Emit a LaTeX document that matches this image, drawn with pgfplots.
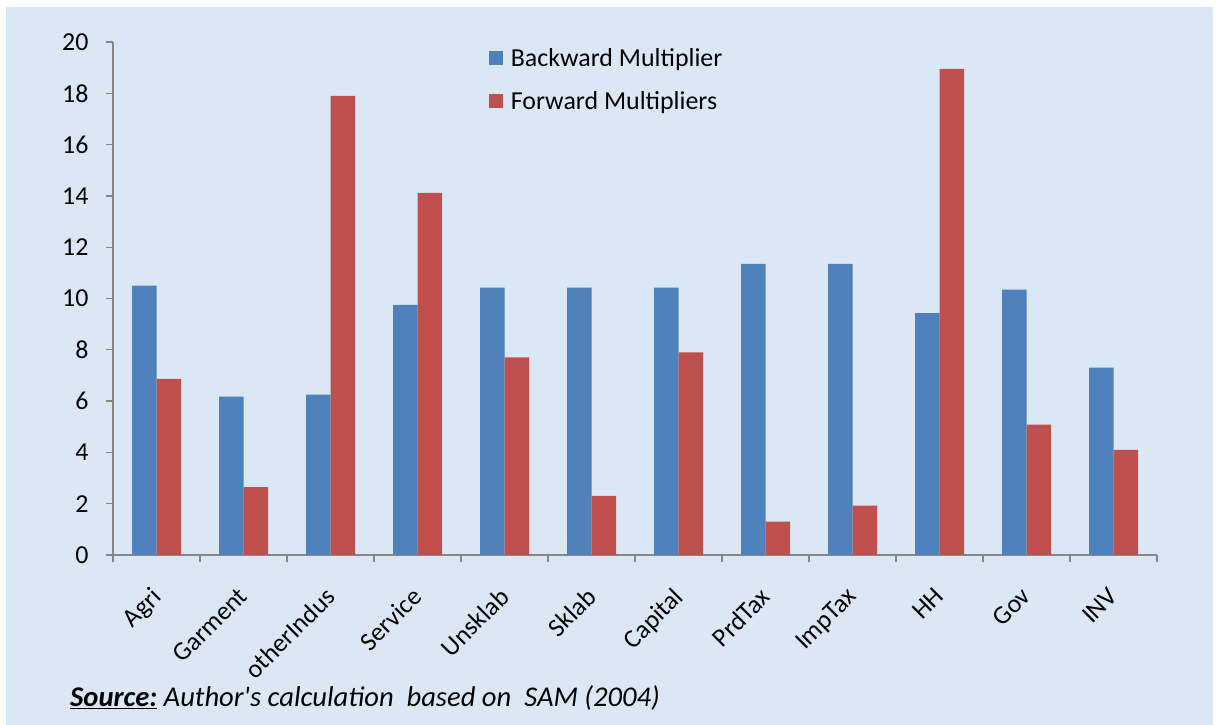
\documentclass[border=0pt]{standalone}
\usepackage{fontspec}
\setmainfont{Carlito}
\usepackage{pgfplots}
\pgfplotsset{compat=1.18}
\definecolor{bgblue}{RGB}{219,231,245}
\definecolor{barblue}{RGB}{79,129,189}
\definecolor{barred}{RGB}{192,80,77}
\definecolor{axgray}{RGB}{134,134,134}
\begin{document}
\begin{tikzpicture}[x=1bp,y=1bp]
\fill[white] (0,0) rectangle (1219,725);
\fill[bgblue] (6,0) rectangle (1213,718);
\useasboundingbox (0,0) rectangle (1219,725);
\begin{axis}[
  at={(113bp,170bp)}, anchor=south west,
  scale only axis, width=1044bp, height=513bp,
  xmin=-0.5, xmax=11.5, ymin=0, ymax=20,
  ybar=0pt, bar width=24.5bp,
  axis x line*=bottom, axis y line*=left,
  x axis line style={-}, y axis line style={-},
  axis line style={axgray, line width=1.3bp},
  tick align=outside, major tick length=7bp,
  tick style={axgray, line width=1.3bp},
  ytick={0,2,...,20},
  xtick={-0.5,0.5,...,11.5}, xticklabels={},
  extra x ticks={0,1,...,11},
  extra x tick labels={Agri,Garment,otherIndus,Service,Unsklab,Sklab,Capital,PrdTax,ImpTax,HH,Gov,INV},
  extra x tick style={tick style={draw=none}},
  xticklabel style={rotate=45, anchor=north east, font=\fontsize{26}{31}\selectfont, xshift=-18bp, yshift=-9bp},
  yticklabel style={font=\fontsize{26}{31}\selectfont, xshift=-14bp},
  /pgf/number format/assume math mode=true,
  legend style={at={(0.357,0.995)}, anchor=north west, draw=none, fill=none,
    font=\fontsize{26}{31}\selectfont, row sep=19bp, legend cell align=left,
    /tikz/every even column/.append style={column sep=0bp}},
  every axis plot/.append style={draw=none},
]
\addplot[fill=barblue, area legend, legend image code/.code={\fill[barblue] (0bp,-7bp) rectangle (14bp,7bp); \path (20bp,0bp);}] coordinates {
(0,10.5) (1,6.17) (2,6.25) (3,9.75) (4,10.42) (5,10.42) (6,10.42) (7,11.35) (8,11.35) (9,9.43) (10,10.35) (11,7.3)};
\addplot[fill=barred, area legend, legend image code/.code={\fill[barred] (0bp,-7bp) rectangle (14bp,7bp); \path (20bp,0bp);}] coordinates {
(0,6.87) (1,2.65) (2,17.9) (3,14.12) (4,7.7) (5,2.3) (6,7.9) (7,1.3) (8,1.92) (9,18.95) (10,5.08) (11,4.1)};
\legend{Backward Multiplier, Forward Multipliers}
\end{axis}
\node[anchor=base west, font=\fontsize{28.7}{34}\selectfont\itshape, inner sep=0pt] at (70,18)
  {\underline{\textbf{Source:}} Author\textquotesingle s calculation\ \ based on\ \ SAM (2004)};
\end{tikzpicture}
\end{document}
